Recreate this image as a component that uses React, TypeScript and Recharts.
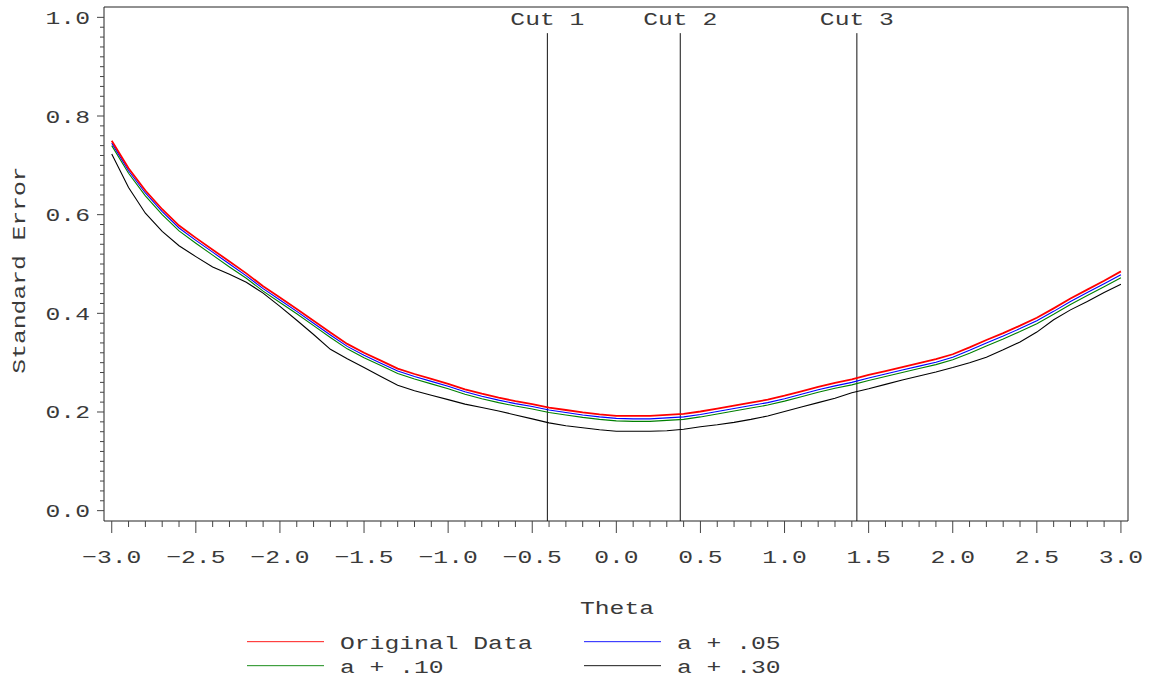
import React from 'react';
import { LineChart, Line, XAxis, YAxis, ReferenceLine, ReferenceArea, Legend } from 'recharts';

const thetas = [
  -3.0, -2.9, -2.8, -2.7, -2.6, -2.5, -2.4, -2.3, -2.2, -2.1,
  -2.0, -1.9, -1.8, -1.7, -1.6, -1.5, -1.4, -1.3, -1.2, -1.1,
  -1.0, -0.9, -0.8, -0.7, -0.6, -0.5, -0.4, -0.3, -0.2, -0.1,
  0.0, 0.1, 0.2, 0.3, 0.4, 0.5, 0.6, 0.7, 0.8, 0.9,
  1.0, 1.1, 1.2, 1.3, 1.4, 1.5, 1.6, 1.7, 1.8, 1.9,
  2.0, 2.1, 2.2, 2.3, 2.4, 2.5, 2.6, 2.7, 2.8, 2.9, 3.0,
];

const originalData = [
  0.750, 0.694, 0.649, 0.611, 0.578, 0.553, 0.529, 0.505, 0.481, 0.455,
  0.432, 0.409, 0.385, 0.361, 0.338, 0.320, 0.304, 0.288, 0.277, 0.267,
  0.257, 0.246, 0.237, 0.229, 0.222, 0.216, 0.209, 0.204, 0.199, 0.195,
  0.192, 0.192, 0.192, 0.194, 0.196, 0.201, 0.207, 0.213, 0.219, 0.225,
  0.233, 0.242, 0.251, 0.259, 0.266, 0.275, 0.283, 0.291, 0.299, 0.307,
  0.317, 0.331, 0.346, 0.360, 0.375, 0.391, 0.410, 0.430, 0.448, 0.466, 0.485,
];

const aPlus05 = [
  0.745, 0.689, 0.644, 0.606, 0.573, 0.548, 0.524, 0.500, 0.476, 0.450,
  0.427, 0.404, 0.380, 0.356, 0.333, 0.315, 0.299, 0.283, 0.272, 0.262,
  0.252, 0.241, 0.232, 0.224, 0.217, 0.211, 0.204, 0.199, 0.194, 0.190,
  0.187, 0.186, 0.186, 0.188, 0.190, 0.195, 0.201, 0.207, 0.213, 0.219,
  0.227, 0.236, 0.245, 0.253, 0.260, 0.269, 0.277, 0.285, 0.293, 0.301,
  0.311, 0.325, 0.340, 0.354, 0.369, 0.385, 0.404, 0.424, 0.442, 0.460, 0.478,
];

const aPlus10 = [
  0.740, 0.684, 0.638, 0.600, 0.567, 0.542, 0.518, 0.494, 0.471, 0.445,
  0.422, 0.399, 0.375, 0.351, 0.328, 0.310, 0.294, 0.278, 0.267, 0.257,
  0.247, 0.236, 0.227, 0.219, 0.212, 0.206, 0.199, 0.194, 0.189, 0.185,
  0.182, 0.181, 0.181, 0.183, 0.185, 0.190, 0.196, 0.202, 0.208, 0.214,
  0.222, 0.231, 0.240, 0.248, 0.255, 0.264, 0.272, 0.280, 0.288, 0.296,
  0.306, 0.319, 0.334, 0.348, 0.363, 0.379, 0.398, 0.418, 0.436, 0.454, 0.472,
];

const aPlus30 = [
  0.723, 0.655, 0.603, 0.566, 0.537, 0.515, 0.494, 0.479, 0.463, 0.441,
  0.414, 0.386, 0.357, 0.327, 0.308, 0.290, 0.272, 0.254, 0.243, 0.234,
  0.225, 0.216, 0.209, 0.202, 0.194, 0.186, 0.178, 0.172, 0.168, 0.164,
  0.161, 0.161, 0.161, 0.162, 0.165, 0.170, 0.174, 0.179, 0.185, 0.192,
  0.201, 0.210, 0.219, 0.228, 0.239, 0.247, 0.256, 0.265, 0.273, 0.281,
  0.290, 0.300, 0.311, 0.326, 0.342, 0.362, 0.387, 0.407, 0.424, 0.442, 0.459,
];

const cutValues = [-0.41, 0.38, 1.43];
const cutLabels = ['Cut 1', 'Cut 2', 'Cut 3'];

const xMajorTicks = [-3.0, -2.5, -2.0, -1.5, -1.0, -0.5, 0.0, 0.5, 1.0, 1.5, 2.0, 2.5, 3.0];
const xTickLabels = ['\u22123.0', '\u22122.5', '\u22122.0', '\u22121.5', '\u22121.0', '\u22120.5', '0.0', '0.5', '1.0', '1.5', '2.0', '2.5', '3.0'];
const yMajorTicks = [0.0, 0.2, 0.4, 0.6, 0.8, 1.0];
const yTickLabels = ['0.0', '0.2', '0.4', '0.6', '0.8', '1.0'];

const seriesNames = ['Original Data', 'a + .05', 'a + .10', 'a + .30'];
const seriesKeys = ['orig', 'a05', 'a10', 'a30'];
const seriesColors = ['#ff0000', '#0000ff', '#008000', '#000000'];

const xMinorTicks = Array.from({ length: 61 }, (_, i) => Math.round((-3 + i * 0.1) * 10) / 10);
const yMinorTicks = Array.from({ length: 51 }, (_, i) => Math.round(i * 2) / 100);

const data = thetas.map((t, i) => ({
  theta: t,
  orig: originalData[i],
  a05: aPlus05[i],
  a10: aPlus10[i],
  a30: aPlus30[i],
}));

const X_DOMAIN: [number, number] = [-3.046, 3.042];
const Y_DOMAIN: [number, number] = [-0.021, 1.021];
const CUT_TOP = 0.968;

const W = 1150;
const H = 678;
const PLOT_LEFT = 104;
const PLOT_BOTTOM = 521;

const FONT = '"Liberation Mono", "DejaVu Sans Mono", monospace';
const FS = 19;
const SX = 1.3;
const TXT = '#3a3a3a';

const SText = ({ x, y, anchor = 'start', rotate = 0, children }: any) => (
  <text
    transform={`translate(${x},${y}) rotate(${rotate}) scale(${SX},1)`}
    x={0}
    y={0}
    textAnchor={anchor}
    fontFamily={FONT}
    fontSize={FS}
    fill={TXT}
  >
    {children}
  </text>
);

const YTick = (props: any) => {
  const { y, payload } = props;
  const v = payload.value;
  const idx = yMajorTicks.findIndex((m) => Math.abs(m - v) < 1e-6);
  const major = idx >= 0;
  return (
    <g>
      <line x1={major ? 97 : 100} x2={PLOT_LEFT} y1={y} y2={y} stroke="#444" strokeWidth={1} />
      {major && (
        <SText x={90} y={y + 6.5} anchor="end">
          {yTickLabels[idx]}
        </SText>
      )}
    </g>
  );
};

const XTick = (props: any) => {
  const { x, payload } = props;
  const v = payload.value;
  const idx = xMajorTicks.findIndex((m) => Math.abs(m - v) < 1e-6);
  const major = idx >= 0;
  return (
    <g>
      <line x1={x} x2={x} y1={PLOT_BOTTOM} y2={PLOT_BOTTOM + (major ? 12 : 6)} stroke="#444" strokeWidth={1} />
      {major && (
        <SText x={x} y={563} anchor="middle">
          {xTickLabels[idx]}
        </SText>
      )}
    </g>
  );
};

const LegendContent = () => {
  const cols = [247, 584];
  const rows = [641, 665];
  return (
    <svg width={W} height={H} style={{ position: 'absolute', left: 0, top: 0 }}>
      {seriesNames.map((name, i) => {
        const cx = cols[i % 2];
        const cy = rows[Math.floor(i / 2)];
        return (
          <g key={name}>
            <rect x={cx} y={cy} width={77} height={1.2} fill={seriesColors[i]} fillOpacity={0.75} />
            <SText x={cx + 93} y={cy + 8}>
              {name}
            </SText>
          </g>
        );
      })}
    </svg>
  );
};

const XLabel = () => (
  <SText x={617} y={614} anchor="middle">
    Theta
  </SText>
);

const YLabel = () => (
  <SText x={25} y={270} anchor="middle" rotate={-90}>
    Standard Error
  </SText>
);

export default function App() {
  return (
    <div style={{ position: 'absolute', left: 0, top: 0, width: W, height: H, background: '#fff' }}>
      <LineChart width={W} height={H} data={data} margin={{ top: 7, right: 22, bottom: 0, left: 0 }}>
        <XAxis
          type="number"
          dataKey="theta"
          domain={X_DOMAIN}
          allowDataOverflow
          ticks={xMinorTicks}
          interval={0}
          tick={<XTick />}
          tickLine={false}
          axisLine={false}
          height={H - PLOT_BOTTOM}
          label={<XLabel />}
        />
        <YAxis
          type="number"
          domain={Y_DOMAIN}
          allowDataOverflow
          ticks={yMinorTicks}
          interval={0}
          tick={<YTick />}
          tickLine={false}
          axisLine={false}
          width={PLOT_LEFT}
          label={<YLabel />}
        />
        <ReferenceArea
          x1={X_DOMAIN[0]}
          x2={X_DOMAIN[1]}
          y1={Y_DOMAIN[0]}
          y2={Y_DOMAIN[1]}
          fill="none"
          fillOpacity={0}
          stroke="#222"
          strokeWidth={1}
          ifOverflow="visible"
        />
        {cutValues.map((c, i) => (
          <ReferenceLine
            key={cutLabels[i]}
            segment={[{ x: c, y: Y_DOMAIN[0] }, { x: c, y: CUT_TOP }]}
            stroke="#111"
            strokeWidth={1}
            ifOverflow="visible"
            label={(p: any) => {
              const vb = p.viewBox || {};
              return (
                <SText x={vb.x} y={25} anchor="middle">
                  {cutLabels[i]}
                </SText>
              );
            }}
          />
        ))}
        {[3, 2, 1, 0].map((i) => (
          <Line
            key={seriesKeys[i]}
            type="linear"
            dataKey={seriesKeys[i]}
            name={seriesNames[i]}
            stroke={seriesColors[i]}
            strokeWidth={i === 0 ? 1.8 : 1.1}
            dot={false}
            activeDot={false}
            isAnimationActive={false}
          />
        ))}
        <Legend
          layout="horizontal"
          verticalAlign="middle"
          align="center"
          content={<LegendContent />}
          wrapperStyle={{ position: 'absolute', left: 0, top: 0, width: W, height: H, pointerEvents: 'none' }}
        />
      </LineChart>
    </div>
  );
}
